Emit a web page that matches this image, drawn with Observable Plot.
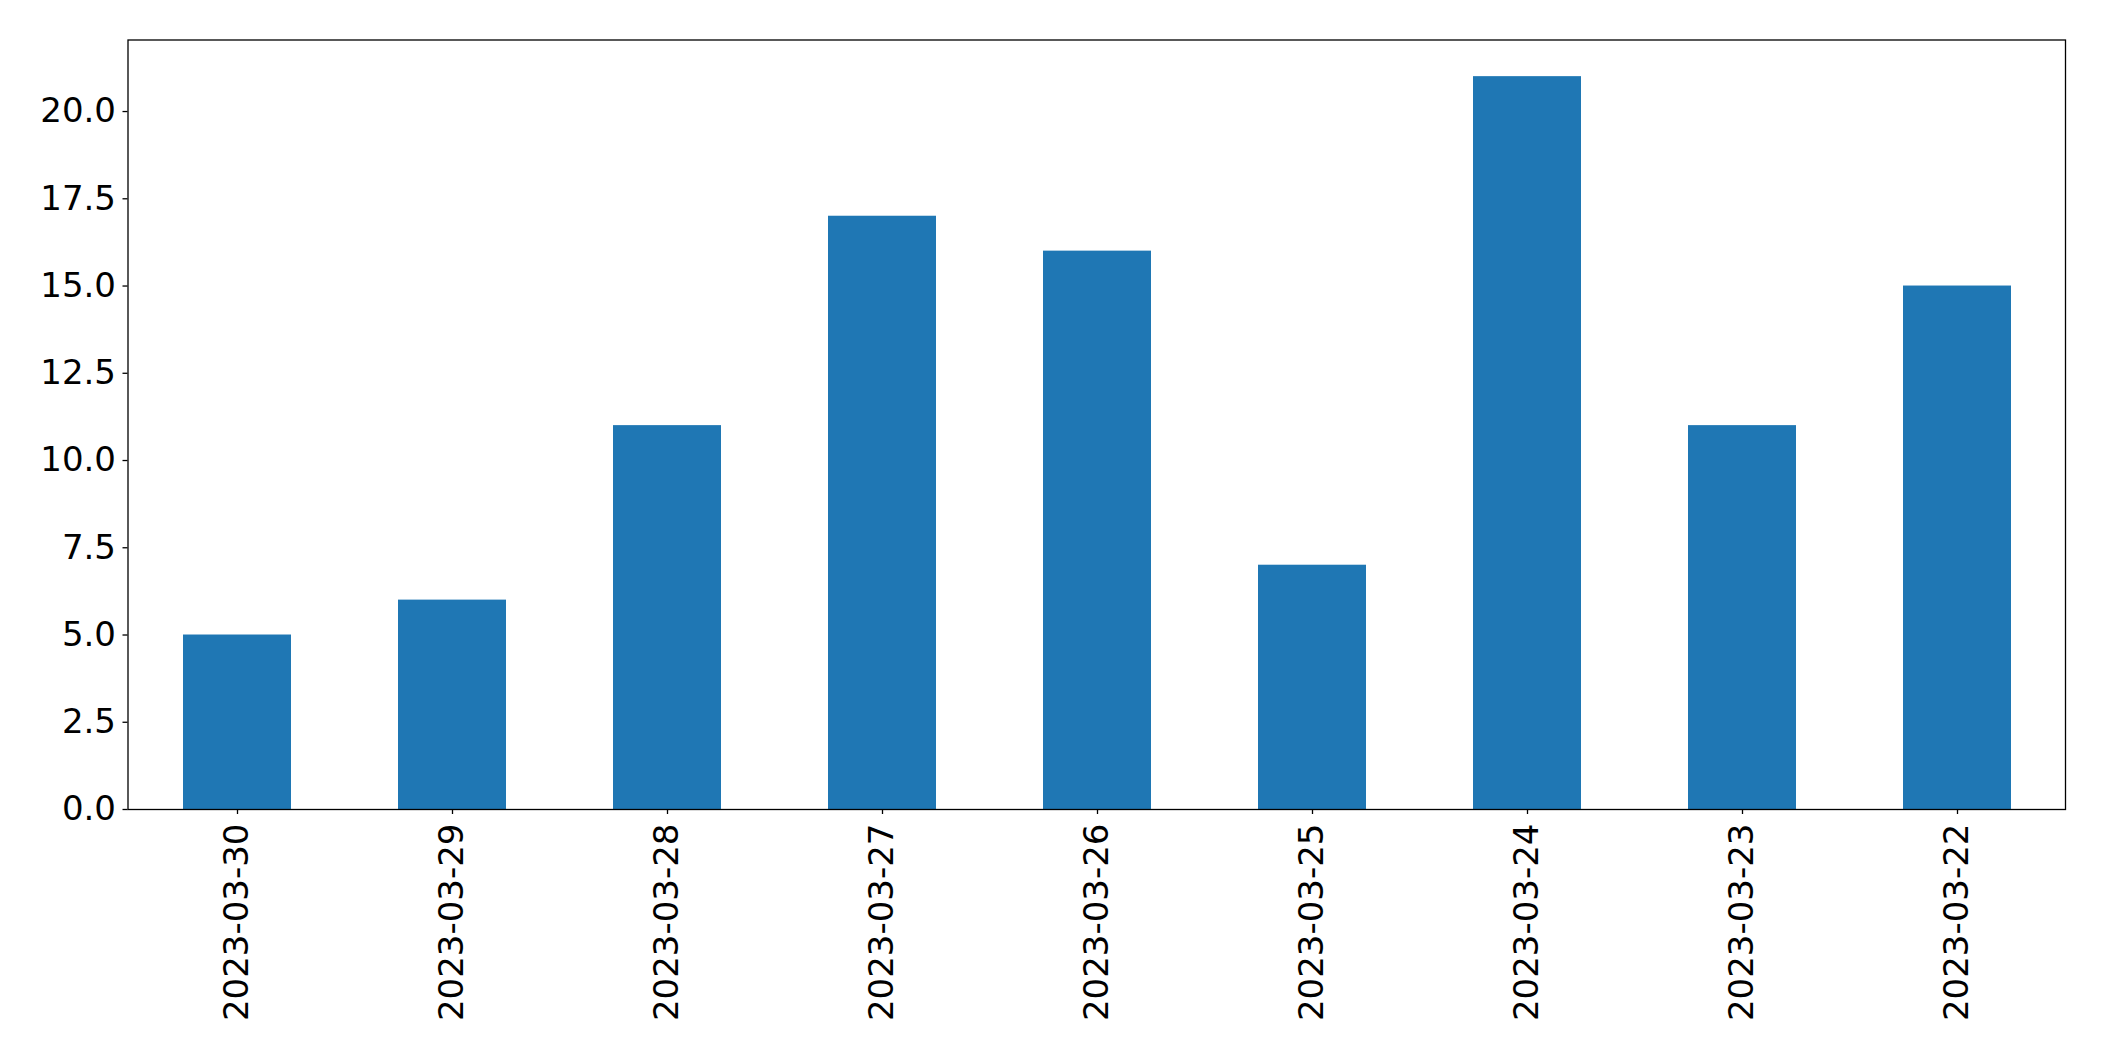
<!DOCTYPE html>
<html>
<head>
<meta charset="utf-8">
<script src="https://cdn.jsdelivr.net/npm/d3@7"></script>
<script src="https://cdn.jsdelivr.net/npm/@observablehq/plot@0.6"></script>
<style>
  html, body { margin: 0; padding: 0; background: #fff; }
  #chart svg { display: block; }
</style>
</head>
<body>
<div id="chart"></div>
<script>
const dates = ["2023-03-30", "2023-03-29", "2023-03-28", "2023-03-27", "2023-03-26", "2023-03-25", "2023-03-24", "2023-03-23", "2023-03-22"];
const counts = [5, 6, 11, 17, 16, 7, 21, 11, 15];
const yTicks = [0, 2.5, 5, 7.5, 10, 12.5, 15, 17.5, 20];

const data = dates.map((d, i) => ({date: d, count: counts[i]}));

const chart = Plot.plot({
  width: 2104,
  height: 1061,
  marginLeft: 127.5,
  marginRight: 39,
  marginTop: 39.5,
  marginBottom: 252,
  style: {fontFamily: "DejaVu Sans", fontSize: "34px", color: "#000", background: "#fff"},
  x: {type: "band", domain: dates, paddingInner: 0.5, paddingOuter: 0.25, align: 0.5},
  y: {domain: [0, 22.05]},
  marks: [
    Plot.barY(data, {x: "date", y: "count", fill: "#1f77b4"}),
    Plot.axisY({ticks: yTicks, tickFormat: d3.format(".1f"), tickSize: 5, tickPadding: 7, stroke: "#000", strokeWidth: 1.3, label: null, fontSize: 34}),
    Plot.axisX({tickRotate: -90, tickSize: 5, tickPadding: 9, stroke: "#000", strokeWidth: 1.3, label: null, fontSize: 34}),
    Plot.frame({stroke: "#000", strokeWidth: 1.3})
  ]
});
document.getElementById("chart").appendChild(chart);
</script>
</body>
</html>
